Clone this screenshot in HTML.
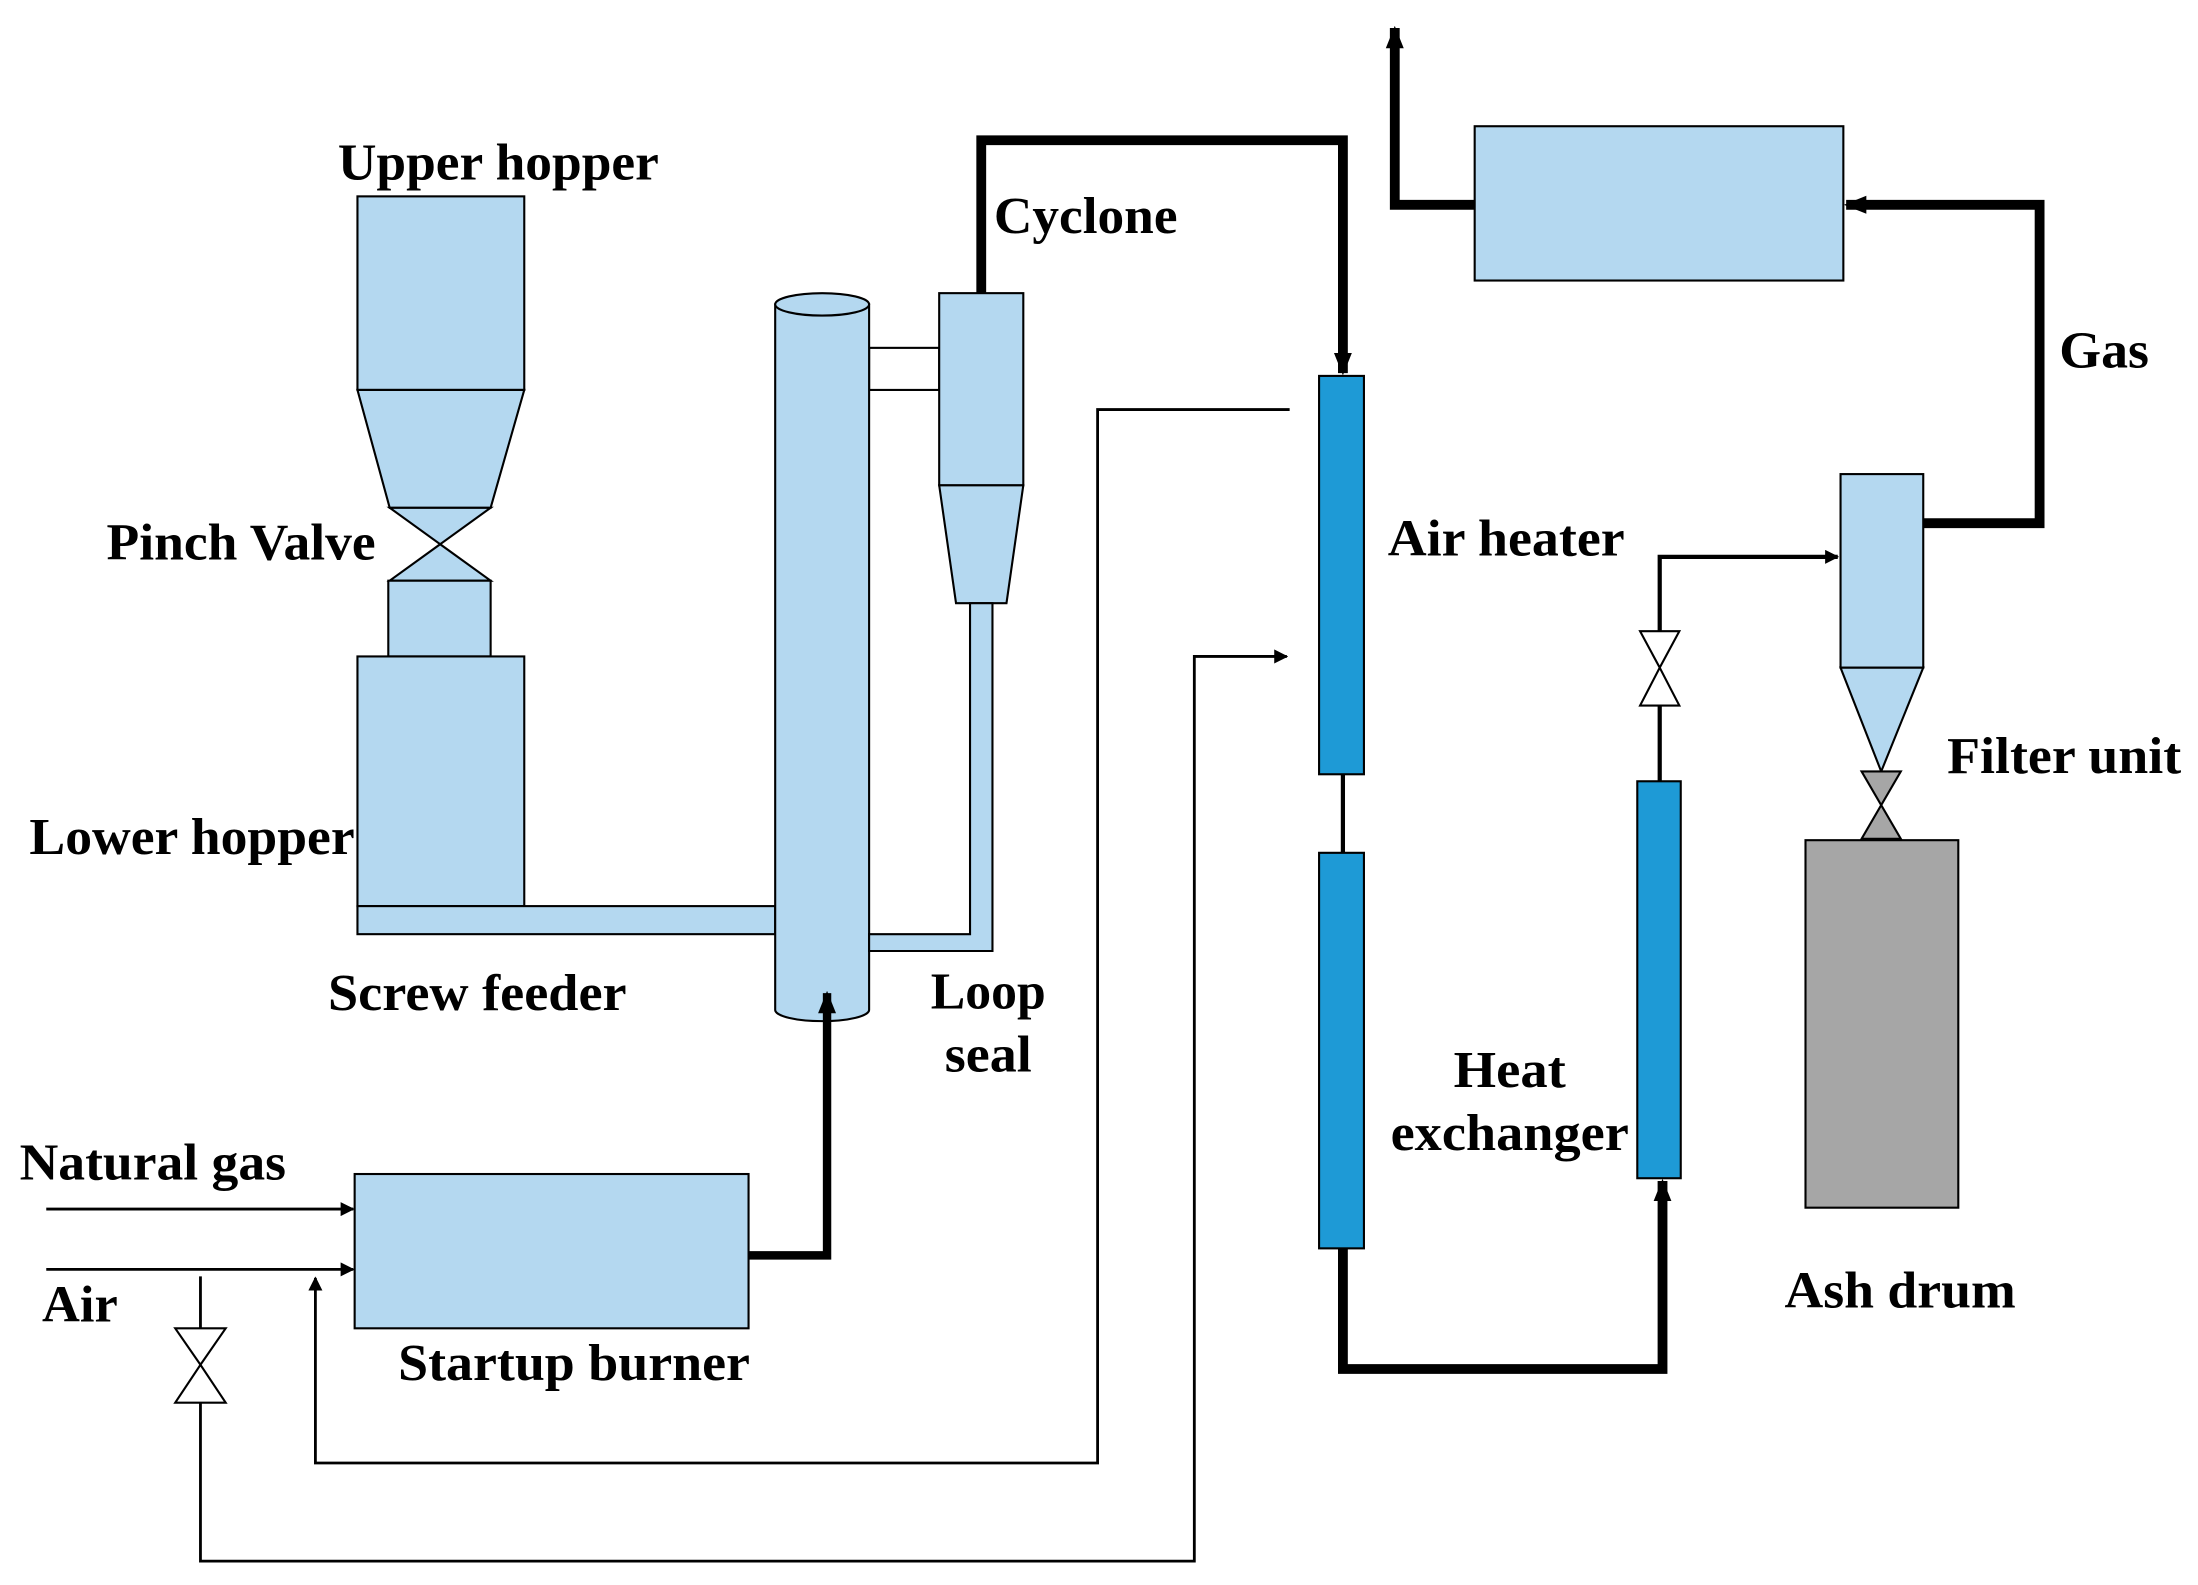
<!DOCTYPE html>
<html><head><meta charset="utf-8"><style>
html,body{margin:0;padding:0;background:#fff;}
svg{display:block;}
text{font-family:"Liberation Serif",serif;font-weight:bold;font-size:37px;fill:#000;}
</style></head><body>
<svg width="2198" height="1585" viewBox="0 0 1568 1130" preserveAspectRatio="none" xmlns="http://www.w3.org/2000/svg">
<defs>
<marker id="at" viewBox="0 0 10 10" refX="9" refY="5" markerWidth="10" markerHeight="10" orient="auto" markerUnits="userSpaceOnUse"><path d="M0,0L10,5L0,10z"/></marker>
<marker id="ab" viewBox="0 0 10 10" refX="9" refY="5" markerWidth="16" markerHeight="16" orient="auto" markerUnits="userSpaceOnUse"><path d="M0,1L10,5L0,9z"/></marker>
</defs>
<g stroke="#000" stroke-width="1.5" fill="#b4d8f0">
<rect x="255" y="140" width="119" height="138"/>
<polygon points="255,278 374,278 350,362 278,362"/>
<polygon points="278,362 350,362 314,388"/>
<polygon points="278,414 350,414 314,388"/>
<rect x="277" y="414" width="73" height="54"/>
<rect x="255" y="468" width="119" height="178"/>
<rect x="255" y="646" width="298" height="20"/>
<rect x="620" y="248" width="50" height="30" fill="#fff"/>
<path d="M553,217 L553,720 A33.5,8 0 0 0 620,720 L620,217 Z"/>
<ellipse cx="586.5" cy="217" rx="33.5" ry="8"/>
<rect x="670" y="209" width="60" height="137"/>
<polygon points="670,346 730,346 718,430 682,430"/>
<path d="M692,430 L692,666 L620,666 L620,678 L708,678 L708,430 Z"/>
<rect x="941" y="268" width="32" height="284" fill="#1e9ad6"/>
<rect x="941" y="608" width="32" height="282" fill="#1e9ad6"/>
<rect x="1168" y="557" width="31" height="283" fill="#1e9ad6"/>
<rect x="1313" y="338" width="59" height="138"/>
<polygon points="1313,476 1372,476 1342,550"/>
<polygon points="1328,550 1356,550 1342,574" fill="#a6a6a6"/>
<polygon points="1328,598 1356,598 1342,574" fill="#a6a6a6"/>
<rect x="1288" y="599" width="109" height="262" fill="#a6a6a6"/>
<rect x="1052" y="90" width="263" height="110"/>
<rect x="253" y="837" width="281" height="110"/>
<polygon points="1170,450 1198,450 1184,476" fill="#fff"/>
<polygon points="1170,503 1198,503 1184,476" fill="#fff"/>
<polygon points="125,947 161,947 143,973" fill="#fff"/>
<polygon points="125,1000 161,1000 143,973" fill="#fff"/>
</g>
<g fill="none" stroke="#000">
<path d="M700,209 L700,100 L958,100 L958,266" stroke-width="7" marker-end="url(#ab)"/>
<path d="M958,552 L958,608" stroke-width="3"/>
<path d="M958,890 L958,976 L1186,976 L1186,842" stroke-width="7" marker-end="url(#ab)"/>
<path d="M1372,373 L1455,373 L1455,146 L1317,146" stroke-width="7" marker-end="url(#ab)"/>
<path d="M1052,146 L995,146 L995,20" stroke-width="7" marker-end="url(#ab)"/>
<path d="M534,895 L590,895 L590,708" stroke-width="6" marker-end="url(#ab)"/>
<path d="M1184,557 L1184,503 M1184,450 L1184,397 L1311,397" stroke-width="3" marker-end="url(#at)"/>
<path d="M33,862 L252,862" stroke-width="2" marker-end="url(#at)"/>
<path d="M33,905 L252,905" stroke-width="2" marker-end="url(#at)"/>
<path d="M920,292 L783,292 L783,1043 L225,1043 L225,911" stroke-width="2" marker-end="url(#at)"/>
<path d="M143,910 L143,947 M143,1000 L143,1113 L852,1113 L852,468 L918,468" stroke-width="2" marker-end="url(#at)"/>
</g>
<g lengthAdjust="spacingAndGlyphs">
<text x="241" y="128" textLength="229" lengthAdjust="spacingAndGlyphs">Upper hopper</text>
<text x="709" y="166" textLength="131" lengthAdjust="spacingAndGlyphs">Cyclone</text>
<text x="76" y="399" textLength="192" lengthAdjust="spacingAndGlyphs">Pinch Valve</text>
<text x="21" y="609" textLength="232" lengthAdjust="spacingAndGlyphs">Lower hopper</text>
<text x="234" y="720" textLength="213" lengthAdjust="spacingAndGlyphs">Screw feeder</text>
<text x="664" y="719" textLength="82" lengthAdjust="spacingAndGlyphs">Loop</text>
<text x="674" y="764" textLength="62" lengthAdjust="spacingAndGlyphs">seal</text>
<text x="14" y="841" textLength="190" lengthAdjust="spacingAndGlyphs">Natural gas</text>
<text x="30" y="942" textLength="54" lengthAdjust="spacingAndGlyphs">Air</text>
<text x="284" y="984" textLength="251" lengthAdjust="spacingAndGlyphs">Startup burner</text>
<text x="990" y="396" textLength="169" lengthAdjust="spacingAndGlyphs">Air heater</text>
<text x="1037" y="775" textLength="80" lengthAdjust="spacingAndGlyphs">Heat</text>
<text x="992" y="820" textLength="170" lengthAdjust="spacingAndGlyphs">exchanger</text>
<text x="1469" y="262" textLength="64" lengthAdjust="spacingAndGlyphs">Gas</text>
<text x="1389" y="551" textLength="167" lengthAdjust="spacingAndGlyphs">Filter unit</text>
<text x="1273" y="932" textLength="165" lengthAdjust="spacingAndGlyphs">Ash drum</text>
</g>
</svg>
</body></html>
